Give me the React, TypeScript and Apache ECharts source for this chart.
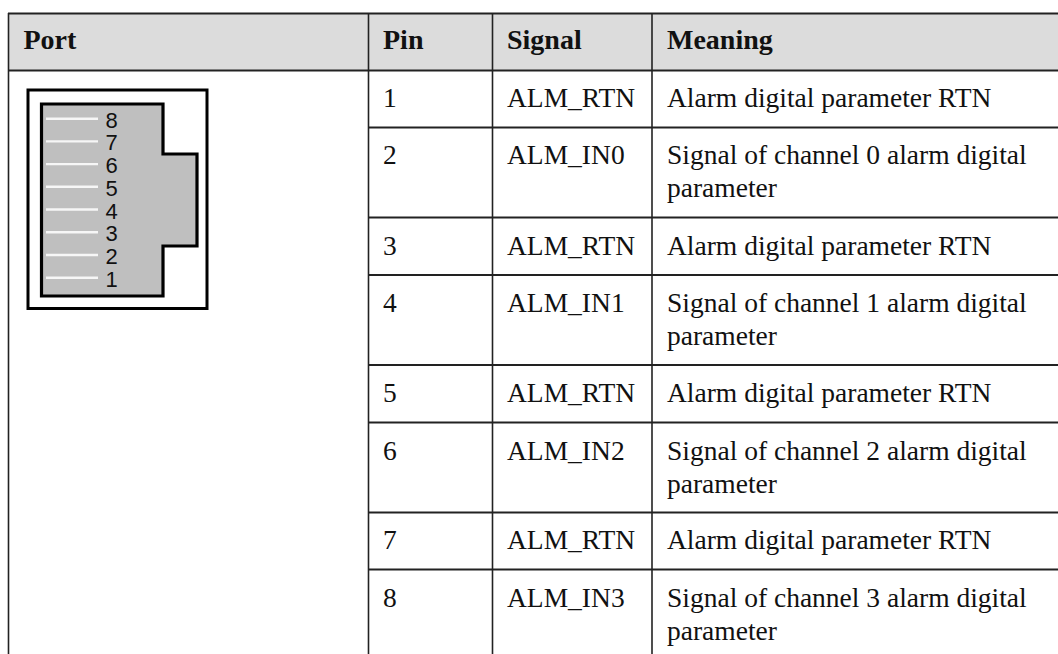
import React, { useEffect, useRef } from "react";
import * as echarts from "echarts";

const headers = ["Port", "Pin", "Signal", "Meaning"];
const pins = ["1", "2", "3", "4", "5", "6", "7", "8"];
const signals = ["ALM_RTN", "ALM_IN0", "ALM_RTN", "ALM_IN1", "ALM_RTN", "ALM_IN2", "ALM_RTN", "ALM_IN3"];
const meanings = [
  "Alarm digital parameter RTN",
  "Signal of channel 0 alarm digital\nparameter",
  "Alarm digital parameter RTN",
  "Signal of channel 1 alarm digital\nparameter",
  "Alarm digital parameter RTN",
  "Signal of channel 2 alarm digital\nparameter",
  "Alarm digital parameter RTN",
  "Signal of channel 3 alarm digital\nparameter",
];
const rowLines = [127.5, 217.5, 275, 365, 422.5, 512.5, 569.5];
const rowTextY = [97, 154, 245, 302, 392, 450, 539, 597];
const colLines = [8.5, 368.5, 492.5, 652];
const textX = [23.5, 383, 507, 667];
const portLabels = ["8", "7", "6", "5", "4", "3", "2", "1"];
const portY = [118.7, 141.4, 164.1, 186.8, 209.5, 232.3, 255, 277.8];

const SERIF = "'Liberation Serif', serif";
const SANS = "'Liberation Sans', sans-serif";
const LINE = "#222";

function buildGraphic() {
  const els: any[] = [];
  els.push({ type: "rect", shape: { x: 8, y: 13, width: 1050, height: 57 }, style: { fill: "#dcdcdc" } });
  const hline = (y: number, x1: number, w = 1.5) =>
    els.push({ type: "line", shape: { x1, y1: y, x2: 1058, y2: y }, style: { stroke: LINE, lineWidth: w } });
  hline(13.5, 8, 2);
  hline(70.5, 8, 2);
  rowLines.forEach((y) => hline(y, 368.5, 2));
  colLines.forEach((x) =>
    els.push({ type: "line", shape: { x1: x, y1: 13, x2: x, y2: 654 }, style: { stroke: LINE, lineWidth: 1.6 } })
  );
  const text = (x: number, y: number, t: string, bold = false) =>
    els.push({
      type: "text",
      x,
      y,
      style: {
        text: t,
        fill: "#111",
        font: `${bold ? "bold " : ""}${bold ? 28 : 27.5}px ${SERIF}`,
        lineHeight: 33,
        verticalAlign: "middle",
        align: "left",
      },
    });
  headers.forEach((h, i) => text(textX[i], 39.5, h, true));
  pins.forEach((p, i) => {
    text(textX[1], rowTextY[i], p);
    text(textX[2], rowTextY[i], signals[i]);
    text(textX[3], rowTextY[i] + (meanings[i].includes("\n") ? 16.5 : 0), meanings[i]);
  });
  // Port drawing
  els.push({ type: "rect", shape: { x: 28, y: 90, width: 179, height: 218.5 }, style: { fill: "#fff", stroke: "#000", lineWidth: 3 } });
  els.push({
    type: "polygon",
    shape: { points: [[41.5, 104], [163, 104], [163, 154], [197, 154], [197, 246], [163, 246], [163, 296], [41.5, 296]] },
    style: { fill: "#bfbfbf", stroke: "#000", lineWidth: 3.2 },
  });
  portLabels.forEach((l, i) => {
    els.push({ type: "line", shape: { x1: 46, y1: portY[i], x2: 98, y2: portY[i] }, style: { stroke: "#f6f6f6", lineWidth: 2.4 } });
    els.push({
      type: "text",
      x: 111.5,
      y: portY[i] + 1.5,
      style: { text: l, fill: "#111", font: `22px ${SANS}`, lineHeight: 17, verticalAlign: "middle", align: "center" },
    });
  });
  return els;
}

export default function App() {
  const ref = useRef<HTMLDivElement>(null);
  useEffect(() => {
    const chart = echarts.init(ref.current!, null, { renderer: "svg" });
    chart.setOption({ animation: false, backgroundColor: "#fff", graphic: { elements: buildGraphic() } });
    return () => chart.dispose();
  }, []);
  return <div ref={ref} style={{ position: "fixed", left: 0, top: 0, width: 1058, height: 654 }} />;
}
